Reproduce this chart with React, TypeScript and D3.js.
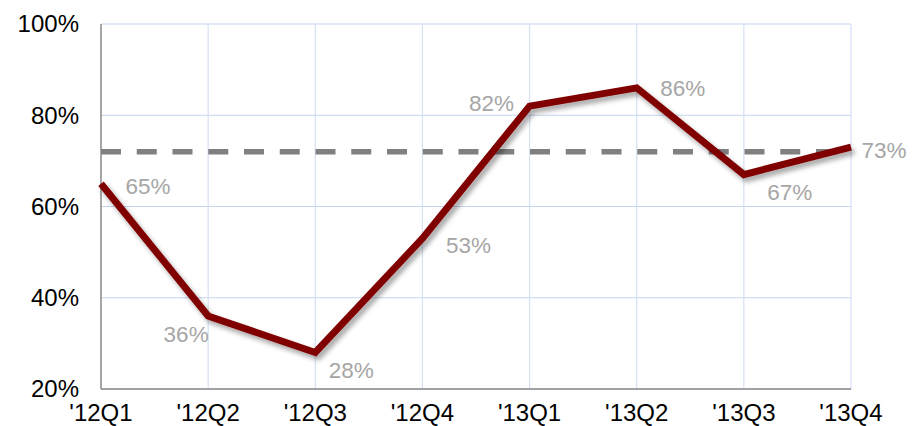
import React from "react";
import * as d3 from "d3";

// datos
const quarters = ["'12Q1", "'12Q2", "'12Q3", "'12Q4", "'13Q1", "'13Q2", "'13Q3", "'13Q4"];
const values = [65, 36, 28, 53, 82, 86, 67, 73];
const target = 72;
const yTicks = [20, 40, 60, 80, 100];
// desplazamiento de cada etiqueta respecto al punto
const labelDx = [47, -22, 36, 46, -38, 46, 46, 33];
const labelDy = [2, 18, 18, 7, -3, 0, 18, 3];

const width = 916;
const height = 426;
const margin = { left: 101, right: 65, top: 24, bottom: 37 };

export default function App() {
  const x = d3
    .scalePoint<string>()
    .domain(quarters)
    .range([margin.left, width - margin.right]);
  const y = d3
    .scaleLinear()
    .domain([20, 100])
    .range([height - margin.bottom, margin.top]);

  const line = d3
    .line<number>()
    .x((_, i) => x(quarters[i]) as number)
    .y((d) => y(d));

  const font = "Arial, 'Liberation Sans', sans-serif";

  return (
    <svg
      width={width}
      height={height}
      style={{ position: "absolute", left: 0, top: 0 }}
      fontFamily={font}
    >
      <defs>
        <filter id="sombra" x="-10%" y="-10%" width="120%" height="130%">
          <feGaussianBlur in="SourceAlpha" stdDeviation="2.5" />
          <feOffset dx="3" dy="4" result="blur" />
          <feComponentTransfer>
            <feFuncA type="linear" slope="0.35" />
          </feComponentTransfer>
          <feMerge>
            <feMergeNode />
            <feMergeNode in="SourceGraphic" />
          </feMerge>
        </filter>
      </defs>
      {/* rejilla */}
      {yTicks.map((t) => (
        <line
          key={"h" + t}
          x1={margin.left}
          x2={width - margin.right}
          y1={y(t)}
          y2={y(t)}
          stroke="#c5d5f0"
          strokeWidth={1.2}
        />
      ))}
      {quarters.slice(1).map((q) => (
        <line
          key={"v" + q}
          x1={x(q)}
          x2={x(q)}
          y1={margin.top}
          y2={y(20)}
          stroke="#d5e0f5"
          strokeWidth={1.2}
        />
      ))}
      {/* ejes */}
      <line x1={margin.left} x2={margin.left} y1={margin.top} y2={y(20)} stroke="#888" strokeWidth={1.5} />
      <line x1={margin.left} x2={width - margin.right} y1={y(20)} y2={y(20)} stroke="#888" strokeWidth={1.5} />
      {yTicks.map((t) => (
        <text key={"yl" + t} x={79} y={y(t)} dy="0.35em" textAnchor="end" fontSize={24} fill="#000">
          {t}%
        </text>
      ))}
      {quarters.map((q) => (
        <text key={"xl" + q} x={x(q)} y={y(20) + 32} textAnchor="middle" fontSize={24} fill="#000">
          {q}
        </text>
      ))}
      {/* línea objetivo */}
      <line
        x1={margin.left}
        x2={width - margin.right}
        y1={y(target)}
        y2={y(target)}
        stroke="#808080"
        strokeWidth={5.5}
        strokeDasharray="20 15.75"
      />
      {/* serie */}
      <path
        d={line(values) as string}
        fill="none"
        stroke="#800000"
        strokeWidth={7}
        strokeLinejoin="miter"
        filter="url(#sombra)"
      />
      {values.map((v, i) => (
        <text
          key={"dl" + i}
          x={(x(quarters[i]) as number) + labelDx[i]}
          y={y(v) + labelDy[i]}
          dy="0.35em"
          textAnchor="middle"
          fontSize={22.5}
          fill="#a6a6a6"
        >
          {v}%
        </text>
      ))}
    </svg>
  );
}
